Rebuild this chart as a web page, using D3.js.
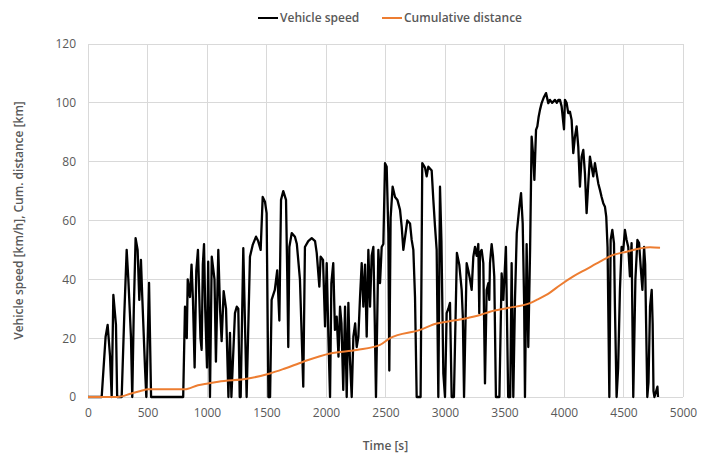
<!DOCTYPE html>
<html>
<head>
<meta charset="utf-8">
<script src="https://cdn.jsdelivr.net/npm/d3@7"></script>
<style>
  html, body { margin: 0; padding: 0; background: #fff; }
  svg { display: block; }
</style>
</head>
<body>
<svg id="chart" width="704" height="458"></svg>
<script>
// ---- data ----
const speedTime = [0,100,115,148,165,185,199,213,235,245,283,305,325,339,361,372,385,400,417,431,445,456,479,490,513,530,800,815,830,838,857,870,882,896,910,924,933,945,955,965,975,985,1000,1010,1025,1040,1063,1075,1095,1110,1123,1140,1160,1180,1193,1205,1235,1250,1263,1275,1283,1305,1333,1361,1384,1412,1430,1451,1468,1487,1501,1516,1530,1543,1570,1590,1608,1622,1641,1664,1675,1683,1692,1712,1739,1755,1781,1809,1823,1851,1880,1908,1922,1944,1955,1975,1992,2006,2020,2034,2045,2061,2075,2090,2105,2118,2130,2145,2160,2174,2188,2200,2216,2230,2245,2258,2272,2286,2300,2314,2328,2342,2356,2370,2384,2398,2410,2420,2440,2454,2468,2482,2496,2510,2524,2532,2543,2560,2580,2600,2622,2636,2650,2665,2683,2706,2720,2734,2748,2762,2795,2809,2832,2846,2860,2888,2902,2916,2930,2944,2958,2970,2986,3000,3014,3028,3042,3056,3075,3100,3120,3140,3150,3160,3182,3196,3210,3224,3238,3252,3266,3280,3288,3294,3308,3322,3336,3350,3364,3372,3378,3392,3403,3414,3428,3457,3476,3490,3512,3531,3548,3560,3574,3588,3603,3625,3639,3653,3665,3672,3686,3700,3715,3728,3742,3751,3765,3776,3787,3798,3812,3832,3849,3868,3882,3900,3924,3940,3952,3966,3980,4000,4008,4022,4036,4050,4064,4078,4092,4106,4120,4134,4148,4162,4176,4190,4204,4218,4232,4246,4260,4274,4288,4302,4316,4330,4344,4355,4366,4381,4392,4406,4420,4428,4442,4455,4470,4484,4498,4512,4526,4540,4554,4568,4582,4600,4617,4631,4645,4659,4673,4682,4690,4700,4710,4723,4737,4745,4752,4760,4785,4790];
const speedValue = [0,0,0,20.5,24.5,14,0,34.7,24.5,0,0,28,50,40,20.5,0,30,54,50,33,46.6,34,10,0,38.8,0,0,30.7,20,40,34,45,33,10,43,50,37.5,20,16,45,52,30,10,46,0,47.7,40,12,50,29.5,19,36,30,0,21.8,0,28.5,30.7,30,0,0,50.6,0,47.7,51.7,54.5,53,50,68,66.4,62.5,0,0,33,36.4,43,26,67,70,67,40,17,51,55.7,54.5,52,40,3.5,51,53,54,53,49,37.5,47.7,46.6,24,45.5,20.5,0,38.7,45.5,22.8,27.3,13.7,30.7,25,2.4,30.7,0,32,13.7,0,20.5,25,17,20.5,34,45.5,30.7,45,20.5,50,30.7,48,51,25,0,50,38.7,51,52,79.5,78.3,55.7,9,61,71.5,68,67,63.6,58,50,54.5,60,59,53.4,50,34,0,0,79.5,78,75,78.3,77,67,58,50,0,71.5,53,8,0,28.5,30,32,0,0,49,45,36.4,27,0,45.5,43,40,36.4,47.7,51,48,52,28.5,49,50,45.5,4.6,36.4,38.7,33,45.5,52,48,41,0,0,42,33,51,0,0,45.5,0,33,55.7,64.7,69.3,59,32,0,52,17,50,88.5,81.7,73.8,90.8,92,95.3,97.6,99.9,102,103.3,99.9,101,100,101,100,101,101,98.8,91,101,100,96.5,97,94.2,82.9,88.5,92,85,71.5,81.7,84,76,62.5,72.6,81.7,78.3,75,79.5,76,72.6,70.4,68,65.9,64.7,61.3,51,0,53.4,56.8,52.3,30.7,0,10,36.4,51,50,56.8,53.4,51,41,52.3,0,40,53.4,52.3,44,36.4,51,45,25,0,5,30.7,36.4,25,2,0,3.5,0];

const distTime  = [0,250,364,448,504,812,924,1008,1095,1347,1529,1655,1809,2034,2258,2454,2538,2790,2930,3014,3182,3294,3378,3518,3714,3770,3882,3966,4078,4190,4302,4414,4526,4638,4723,4807];
const distValue = [0,0,1.2,2.1,2.6,2.6,4,4.6,5.2,6.3,8,9.7,12,14.8,16,17.7,20,22.8,25,25.6,26.8,27.9,29,30.2,31.9,33,35.5,38,41,43.5,46,48.3,49.4,50.5,50.9,50.7];

const xTicks = [0,500,1000,1500,2000,2500,3000,3500,4000,4500,5000];
const yTicks = [0,20,40,60,80,100,120];

const seriesNames = ["Vehicle speed", "Cumulative distance"];
const seriesColors = ["#000000", "#ED7D31"];

const xTitle = "Time [s]";
const yTitle = "Vehicle speed [km/h], Cum. distance [km]";

// ---- layout ----
const svg = d3.select("#chart");
const m = {left: 88, right: 704 - 683, top: 44, bottom: 458 - 397};
const W = 704, H = 458;
const x = d3.scaleLinear().domain([0, 5000]).range([m.left, W - m.right]);
const y = d3.scaleLinear().domain([0, 120]).range([H - m.bottom, m.top]);
const font = "'Open Sans', 'Noto Sans', sans-serif";

// gridlines
svg.append("g").selectAll("line").data(yTicks).join("line")
  .attr("x1", x(0)).attr("x2", x(5000))
  .attr("y1", d => y(d)).attr("y2", d => y(d))
  .attr("stroke", "#d9d9d9").attr("stroke-width", 1).attr("shape-rendering", "crispEdges");
svg.append("g").selectAll("line").data(xTicks).join("line")
  .attr("x1", d => x(d)).attr("x2", d => x(d))
  .attr("y1", y(0)).attr("y2", y(120))
  .attr("stroke", "#d9d9d9").attr("stroke-width", 1).attr("shape-rendering", "crispEdges");

// axes (labels only)
const xAxis = d3.axisBottom(x).tickValues(xTicks).tickSize(0).tickPadding(11).tickFormat(d3.format("d"));
const yAxis = d3.axisLeft(y).tickValues(yTicks).tickSize(0).tickPadding(12).tickFormat(d3.format("d"));
const gx = svg.append("g").attr("transform", `translate(0,${y(0)})`).call(xAxis);
const gy = svg.append("g").attr("transform", `translate(${x(0)},0)`).call(yAxis);
[gx, gy].forEach(g => {
  g.select(".domain").remove();
  g.selectAll("text").attr("fill", "#595959").style("font-family", font).style("font-size", "12px");
});

// lines
const speedData = speedTime.map((t, i) => [t, speedValue[i]]);
const distData = distTime.map((t, i) => [t, distValue[i]]);
const line = d3.line().x(d => x(d[0])).y(d => y(d[1]));
const distLine = d3.line().x(d => x(d[0])).y(d => y(d[1])).curve(d3.curveMonotoneX);

svg.append("path").datum(speedData).attr("d", line)
  .attr("fill", "none").attr("stroke", seriesColors[0]).attr("stroke-width", 2.3)
  .attr("stroke-linejoin", "round");
svg.append("path").datum(distData).attr("d", distLine)
  .attr("fill", "none").attr("stroke", seriesColors[1]).attr("stroke-width", 2)
  .attr("stroke-linejoin", "round");

// axis titles
svg.append("text").attr("x", (x(0) + x(5000)) / 2).attr("y", 450)
  .attr("text-anchor", "middle").attr("fill", "#595959")
  .style("font-family", font).style("font-size", "12px").style("font-weight", 600)
  .text(xTitle);
svg.append("text")
  .attr("transform", `translate(23,${(y(0) + y(120)) / 2}) rotate(-90)`)
  .attr("text-anchor", "middle").attr("fill", "#595959")
  .style("font-family", font).style("font-size", "12px").style("font-weight", 600)
  .text(yTitle);

// legend
const legendX = [258, 382];
const lg = svg.append("g");
seriesNames.forEach((name, i) => {
  lg.append("line").attr("x1", legendX[i]).attr("x2", legendX[i] + 20)
    .attr("y1", 18).attr("y2", 18)
    .attr("stroke", seriesColors[i]).attr("stroke-width", 2);
  lg.append("text").attr("x", legendX[i] + 22).attr("y", 22)
    .attr("fill", "#595959")
    .style("font-family", font).style("font-size", "12px").style("font-weight", 600)
    .text(name);
});
</script>
</body>
</html>
